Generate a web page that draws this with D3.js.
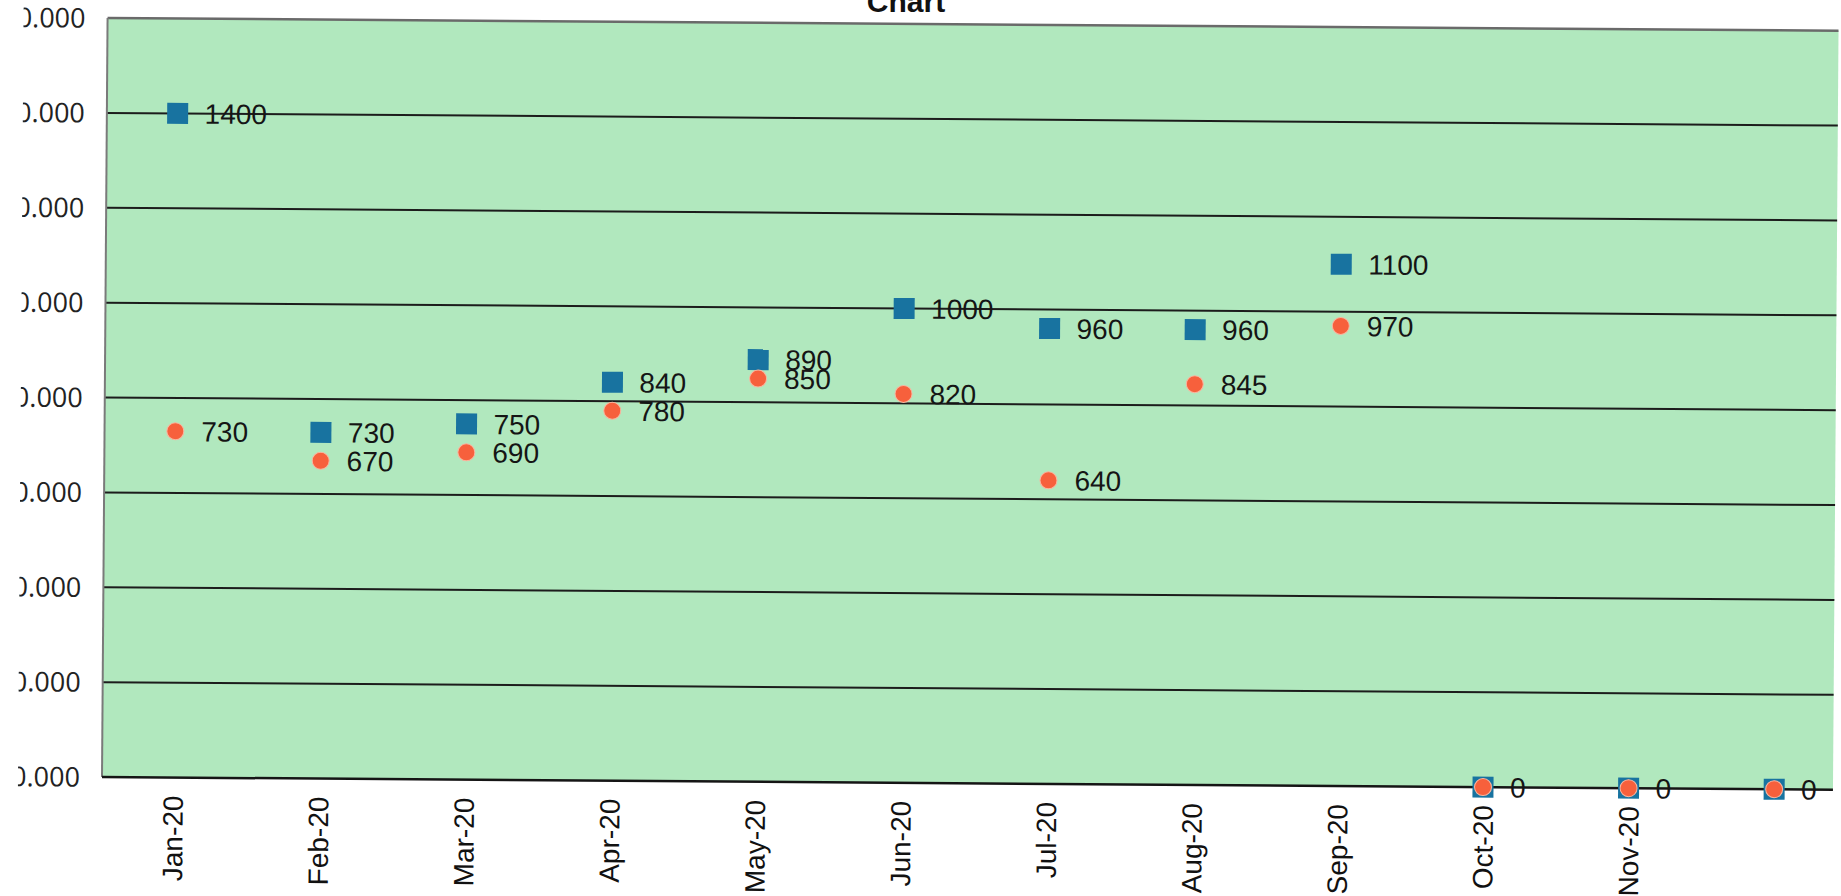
<!DOCTYPE html>
<html>
<head>
<meta charset="utf-8">
<script src="https://cdn.jsdelivr.net/npm/d3@7"></script>
<style>
  html, body { margin: 0; padding: 0; background: #ffffff; }
  svg { display: block; }
</style>
</head>
<body>
<svg id="chart" width="1841" height="896"></svg>
<script>
// ---- data ----
const categories = ["Jan-20", "Feb-20", "Mar-20", "Apr-20", "May-20", "Jun-20",
                    "Jul-20", "Aug-20", "Sep-20", "Oct-20", "Nov-20", ""];
const seriesSquare = [1400, 730, 750, 840, 890, 1000, 960, 960, 1100, 0, 0, 0];
const seriesCircle = [730, 670, 690, 780, 850, 820, 640, 845, 970, 0, 0, 0];
const yTicks = [0, 200, 400, 600, 800, 1000, 1200, 1400, 1600];
const title = "Chart";

// ---- layout ----
const svg = d3.select("#chart");
const plotLeft = 102, plotRight = 1833, plotTop = 18, plotBottom = 777;

const x = d3.scaleBand().domain(d3.range(categories.length)).range([100, 1847]);
const y = d3.scaleLinear().domain([0, 1600]).range([plotBottom, plotTop]);
const cx = i => x(i) + x.bandwidth() / 2;

// title (partially cut at top edge as in the scan)
svg.append("text")
  .attr("x", 906).attr("y", 12)
  .attr("text-anchor", "middle")
  .attr("font-family", "'Liberation Sans', Arial, sans-serif")
  .attr("font-weight", "bold")
  .attr("font-size", 30)
  .attr("fill", "#111")
  .text(title);

// whole chart slightly rotated (scanned page)
const g = svg.append("g")
  .attr("transform", `rotate(0.42, ${plotLeft}, ${plotBottom})`);

// plot background
g.append("rect")
  .attr("x", plotLeft).attr("y", plotTop)
  .attr("width", plotRight - plotLeft).attr("height", plotBottom - plotTop)
  .attr("fill", "#b1e8be");

// gridlines
g.append("g").selectAll("line")
  .data(yTicks.filter(t => t > 0 && t < 1600))
  .join("line")
  .attr("x1", plotLeft).attr("x2", plotRight)
  .attr("y1", d => y(d)).attr("y2", d => y(d))
  .attr("stroke", "#1c1c1c").attr("stroke-width", 2);

// top border
g.append("line")
  .attr("x1", plotLeft).attr("x2", plotRight)
  .attr("y1", y(1600)).attr("y2", y(1600))
  .attr("stroke", "#6a6a6a").attr("stroke-width", 2.5);

// left border
g.append("line")
  .attr("x1", plotLeft).attr("x2", plotLeft)
  .attr("y1", plotTop).attr("y2", plotBottom)
  .attr("stroke", "#7a7a7a").attr("stroke-width", 2);

// bottom axis line
g.append("line")
  .attr("x1", plotLeft).attr("x2", plotRight)
  .attr("y1", y(0)).attr("y2", y(0))
  .attr("stroke", "#151515").attr("stroke-width", 2.5);

// y labels (left part cut off by the scan)
svg.append("defs").append("clipPath").attr("id", "yclip")
  .append("rect").attr("x", 18).attr("y", 0).attr("width", 84).attr("height", 896);

g.append("g").attr("clip-path", "url(#yclip)")
  .selectAll("text")
  .data(yTicks)
  .join("text")
  .attr("x", 80)
  .attr("y", d => y(d))
  .attr("dy", "0.36em")
  .attr("text-anchor", "end")
  .attr("font-family", "'Open Sans', sans-serif")
  .attr("font-size", 27)
  .attr("fill", "#222")
  .text(d => d3.format(".3f")(d));

// x labels (rotated)
g.append("g").selectAll("text")
  .data(categories.map((c, i) => ({ c, i })))
  .join("text")
  .attr("transform", d => `translate(${cx(d.i)}, ${y(0) + 18}) rotate(-90)`)
  .attr("dy", "0.36em")
  .attr("text-anchor", "end")
  .attr("font-family", "'Liberation Sans', Arial, sans-serif")
  .attr("font-size", 28)
  .attr("fill", "#111")
  .text(d => d.c);

// square markers
const sq = 21;
g.append("g").selectAll("rect")
  .data(seriesSquare)
  .join("rect")
  .attr("x", (d, i) => cx(i) - sq / 2)
  .attr("y", d => y(d) - sq / 2)
  .attr("width", sq).attr("height", sq)
  .attr("fill", "#1873a0");

// circle markers
g.append("g").selectAll("circle")
  .data(seriesCircle)
  .join("circle")
  .attr("cx", (d, i) => cx(i))
  .attr("cy", d => y(d))
  .attr("r", 8.5)
  .attr("fill", "#f7603c")
  .attr("stroke", "#f9b6a0").attr("stroke-width", 1);

// data labels
const labelStyle = sel => sel
  .attr("dy", "0.36em")
  .attr("font-family", "'Liberation Sans', Arial, sans-serif")
  .attr("font-size", 28)
  .attr("fill", "#151515");

g.append("g").selectAll("text")
  .data(seriesSquare)
  .join("text")
  .attr("x", (d, i) => cx(i) + 27)
  .attr("y", d => y(d))
  .call(labelStyle)
  .text(d => d);

g.append("g").selectAll("text")
  .data(seriesCircle.map((v, i) => ({ v, i })).filter(d => d.v !== 0))
  .join("text")
  .attr("x", d => cx(d.i) + 26)
  .attr("y", d => y(d.v))
  .call(labelStyle)
  .text(d => d.v);
</script>
</body>
</html>
